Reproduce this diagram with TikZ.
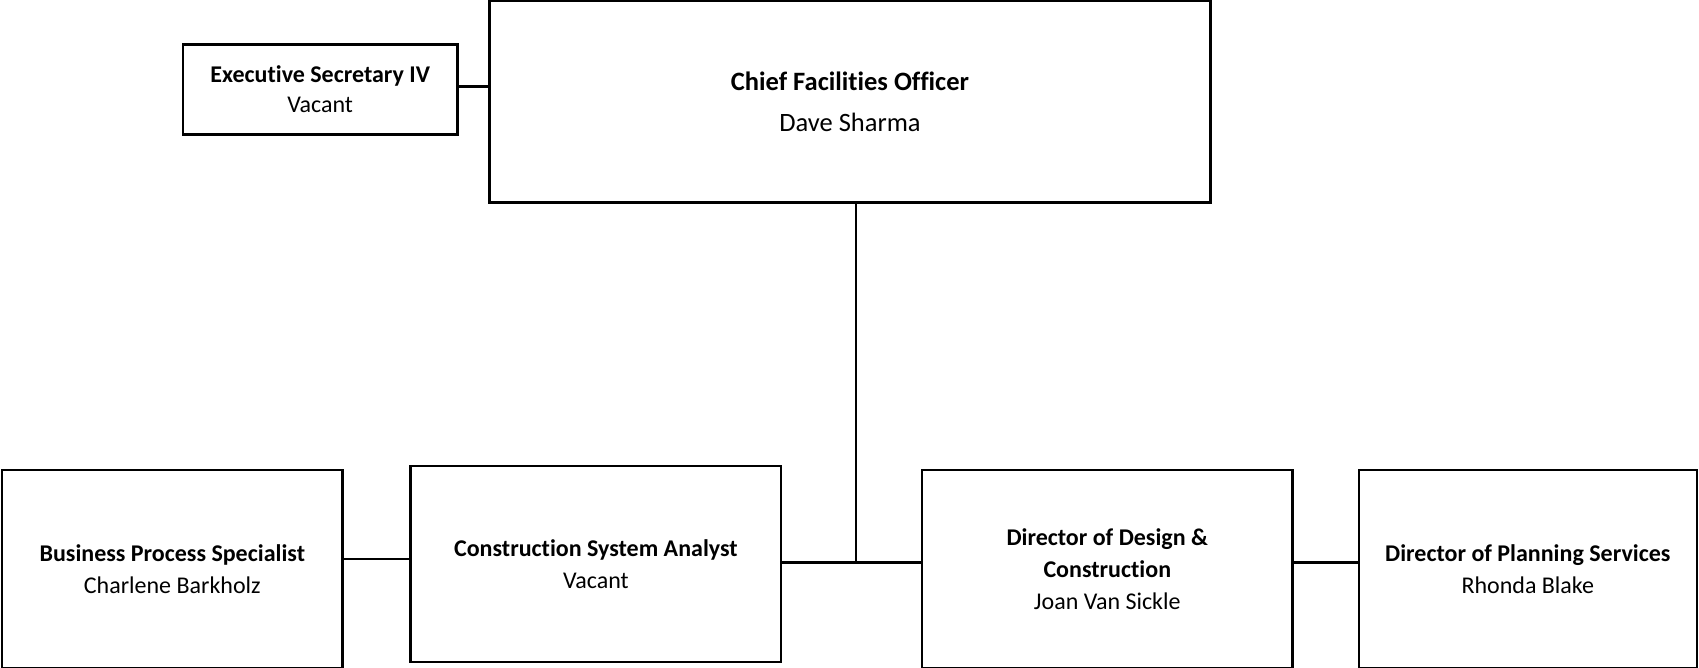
\documentclass[tikz,border=0pt]{standalone}
\usepackage{fontspec}
\setmainfont[Ligatures=NoCommon]{Carlito}
\begin{document}
\begin{tikzpicture}[x=1pt,y=-1pt,
  box/.style={draw=black,line width=2.5pt,inner sep=0pt,align=center,font=\fontsize{24}{32}\selectfont},
  link/.style={draw=black,line width=2.5pt}]
\useasboundingbox (0,0) rectangle (1699,667);
\node[box,minimum width=274.1pt,minimum height=90pt,font=\fontsize{24}{30}\selectfont] (exec) at (320.2,89.4) {\textbf{Executive Secretary IV}\\Vacant};
\node[box,minimum width=720.6pt,minimum height=201.5pt,font=\fontsize{26.5}{41}\selectfont] (chief) at (850,101.9) {\textbf{Chief Facilities Officer}\\Dave Sharma};
\node[box,minimum width=340.2pt,minimum height=197.8pt] (bps) at (172.3,569.1) {\textbf{Business Process Specialist}\\Charlene Barkholz};
\node[box,minimum width=370.6pt,minimum height=196.1pt] (csa) at (595.9,564) {\textbf{Construction System Analyst}\\Vacant};
\node[box,minimum width=370.6pt,minimum height=197.8pt] (ddc) at (1107.3,569.1) {\textbf{Director of Design \&}\\\textbf{Construction}\\Joan Van Sickle};
\node[box,minimum width=338.1pt,minimum height=197.8pt] (dps) at (1527.8,569.1) {\textbf{Director of Planning Services}\\Rhonda Blake};
\coordinate (j) at (856,562.3);
\coordinate (e) at (0,86.7);
\coordinate (b) at (0,559);
\draw[link] (chief.south -| j) -- (j);
\draw[link] (csa.east |- j) -- (ddc.west |- j);
\draw[link] (ddc.east |- j) -- (dps.west |- j);
\draw[link] (exec.east |- e) -- (chief.west |- e);
\draw[link] (bps.east |- b) -- (csa.west |- b);
\end{tikzpicture}
\end{document}
